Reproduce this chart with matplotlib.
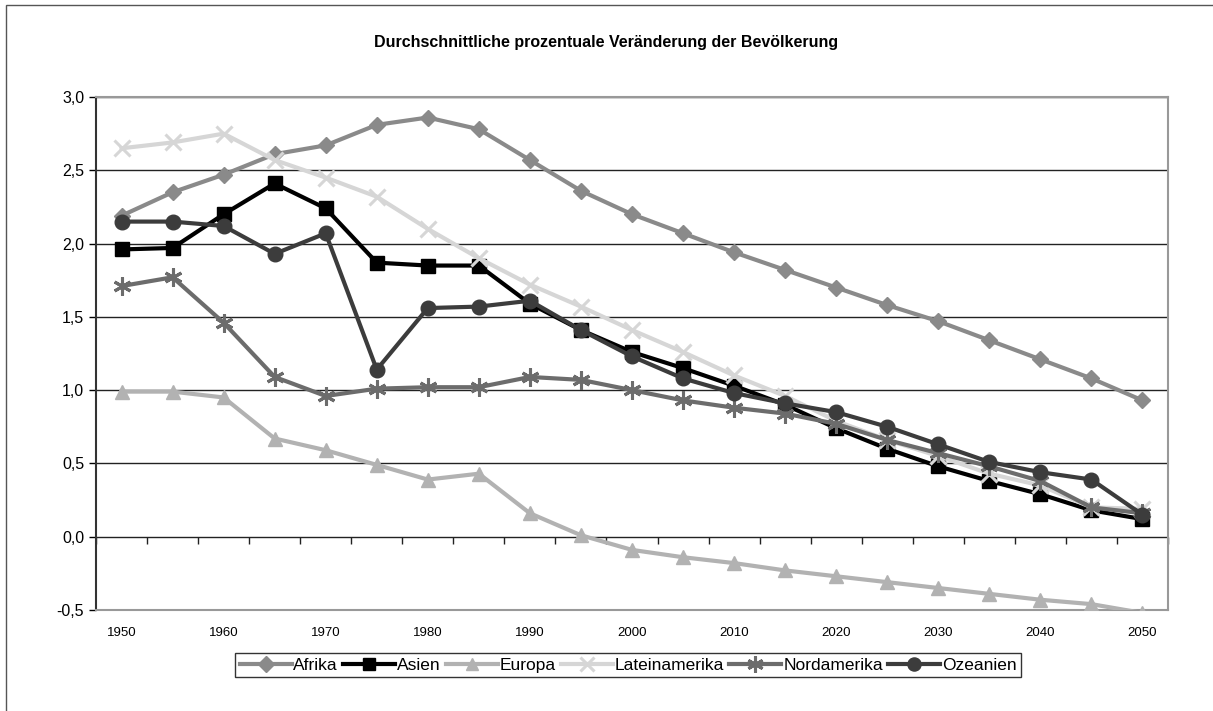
import matplotlib.pyplot as plt
from matplotlib.patches import Rectangle

years = list(range(1950, 2051, 5))

afrika = [2.19, 2.35, 2.47, 2.61, 2.67, 2.81, 2.86, 2.78, 2.57, 2.36, 2.20,
          2.07, 1.94, 1.82, 1.70, 1.58, 1.47, 1.34, 1.21, 1.08, 0.93]
asien = [1.96, 1.97, 2.20, 2.41, 2.24, 1.87, 1.85, 1.85, 1.59, 1.41, 1.26,
         1.15, 1.03, 0.90, 0.74, 0.60, 0.48, 0.38, 0.29, 0.18, 0.12]
europa = [0.99, 0.99, 0.95, 0.67, 0.59, 0.49, 0.39, 0.43, 0.16, 0.01, -0.09,
          -0.14, -0.18, -0.23, -0.27, -0.31, -0.35, -0.39, -0.43, -0.46, -0.52]
lateinamerika = [2.65, 2.69, 2.75, 2.57, 2.45, 2.32, 2.10, 1.90, 1.72, 1.57, 1.41,
                 1.26, 1.10, 0.96, 0.79, 0.66, 0.55, 0.43, 0.35, 0.20, 0.19]
nordamerika = [1.71, 1.77, 1.46, 1.09, 0.96, 1.01, 1.02, 1.02, 1.09, 1.07, 1.00,
               0.93, 0.88, 0.84, 0.77, 0.66, 0.57, 0.48, 0.38, 0.20, 0.16]
ozeanien = [2.15, 2.15, 2.12, 1.93, 2.07, 1.14, 1.56, 1.57, 1.61, 1.41, 1.23,
            1.08, 0.98, 0.91, 0.85, 0.75, 0.63, 0.51, 0.44, 0.39, 0.15]

xtick_years = list(range(1950, 2051, 10))
yticks = [-0.5, 0.0, 0.5, 1.0, 1.5, 2.0, 2.5, 3.0]

plt.rcParams['font.family'] = ['Liberation Sans', 'DejaVu Sans']

fig = plt.figure(figsize=(12.13, 7.11), dpi=100)
ax = fig.add_axes([96 / 1213, 1 - 610 / 711, (1168 - 96) / 1213, (610 - 97) / 711])

# series: label, data, colour, marker, marker size
series = [
    ('Afrika', afrika, '#8a8a8a', 'D', 8.5),
    ('Asien', asien, '#000000', 's', 10),
    ('Europa', europa, '#b2b2b2', '^', 10),
    ('Lateinamerika', lateinamerika, '#d6d6d6', 'x', 11),
    ('Nordamerika', nordamerika, '#6c6c6c', (6, 2, 0), 13),
    ('Ozeanien', ozeanien, '#3c3c3c', 'o', 10.5),
]

for label, vals, col, mk, ms in series:
    ax.plot(years, vals, color=col, lw=3, marker=mk, markersize=ms,
            markeredgewidth=2.2 if mk in ('x', (6, 2, 0)) else 1,
            markerfacecolor=col, markeredgecolor=col, label=label, zorder=3)

ax.set_xlim(1947.5, 2052.5)
ax.set_ylim(-0.5, 3.0)
ax.set_yticks(yticks)
ax.set_yticklabels([f'{v:.1f}'.replace('.', ',') for v in yticks], fontsize=11.5)
ax.set_xticks(xtick_years)
ax.set_xticklabels([str(y) for y in xtick_years], fontsize=9.5)
ax.tick_params(axis='x', length=0, pad=12)
ax.tick_params(axis='y', length=5, width=1, direction='out')
ax.grid(axis='y', color='#222222', lw=1, zorder=1)

for side in ('top', 'right', 'bottom'):
    ax.spines[side].set_color('#999999')
    ax.spines[side].set_linewidth(1.5)
ax.spines['left'].set_color('#333333')
ax.spines['left'].set_linewidth(1.5)

# category axis line at zero with ticks between categories
sec = ax.secondary_xaxis(0.5 / 3.5)
sec.set_xticks([y - 2.5 for y in years] + [2052.5])
sec.set_xticklabels([])
sec.tick_params(length=5, width=1, direction='out', color='#222222')
sec.spines['bottom'].set_visible(False)

fig.text(0.5, 1 - 42 / 711, 'Durchschnittliche prozentuale Veränderung der Bevölkerung',
         ha='center', va='center', fontsize=11.5, fontweight='bold')

leg = fig.legend(loc='center', bbox_to_anchor=(628 / 1213, 1 - 665 / 711), ncol=6,
                 fontsize=12.5, frameon=True, fancybox=False, edgecolor='black',
                 handlelength=3.0, handletextpad=0.1, columnspacing=0.3,
                 borderpad=0.25, borderaxespad=0, markerscale=0.9)
leg.get_frame().set_linewidth(1)

fig.patches.append(Rectangle((6 / 1213, -0.1), 1.2, 1.1 - 5 / 711, transform=fig.transFigure,
                             fill=False, edgecolor='#555555', lw=1))

fig.savefig('out.png', dpi=100)
